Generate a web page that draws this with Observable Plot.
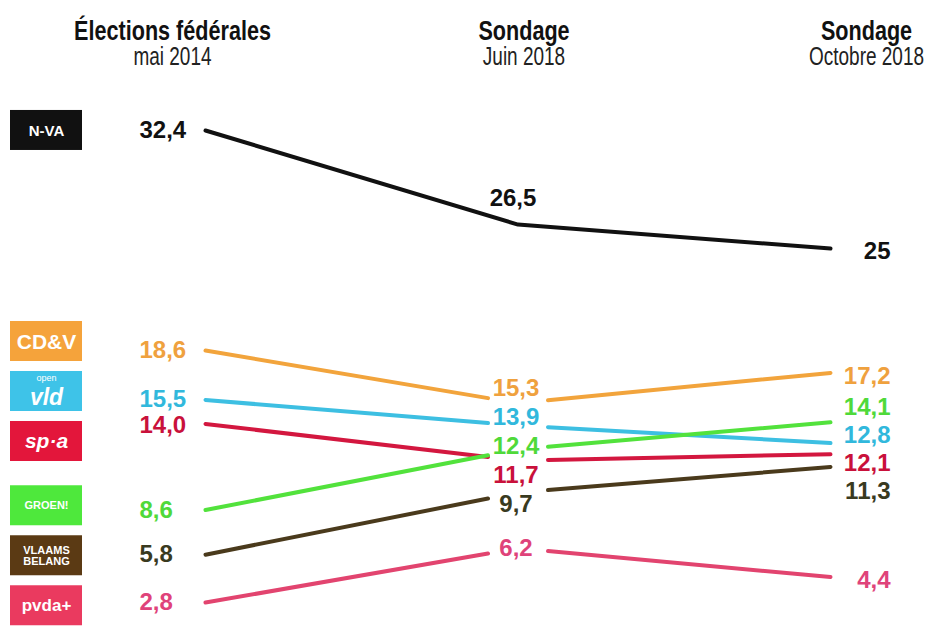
<!DOCTYPE html>
<html><head><meta charset="utf-8">
<script src="https://cdn.jsdelivr.net/npm/d3@7"></script>
<script src="https://cdn.jsdelivr.net/npm/@observablehq/plot@0.6"></script>
<style>
body{margin:0;background:#fff}
#chart svg{overflow:visible}
</style>
</head><body><div id="chart"></div>
<script>
// ---- data ----
const parties = ["N-VA", "CD&V", "Open VLD", "sp.a", "Groen", "Vlaams Belang", "PVDA"];
const logoText = ["N-VA", "CD&V", "vld", "sp·a", "GROEN!", "VLAAMS\nBELANG", "pvda+"];
const columnTitles = ["Élections fédérales", "Sondage", "Sondage"];
const columnDates = ["mai 2014", "Juin 2018", "Octobre 2018"];
const mai2014 = [32.4, 18.6, 15.5, 14.0, 8.6, 5.8, 2.8];
const juin2018 = [26.5, 15.3, 13.9, 11.7, 12.4, 9.7, 6.2];
const oct2018 = [25, 17.2, 12.8, 12.1, 14.1, 11.3, 4.4];
const mai2014Text = ["32,4", "18,6", "15,5", "14,0", "8,6", "5,8", "2,8"];
const juin2018Text = ["26,5", "15,3", "13,9", "11,7", "12,4", "9,7", "6,2"];
const oct2018Text = ["25", "17,2", "12,8", "12,1", "14,1", "11,3", "4,4"];

// ---- styles ----
const lineColors = ["#111111", "#f2a43c", "#3dbfe2", "#d3173f", "#52e23c", "#4a3a1c", "#e2446f"];
const labelColors = ["#111111", "#efa13e", "#31b8dc", "#c9113b", "#4fd93a", "#393a1f", "#df437a"];
const logoColors = ["#111111", "#f5a33b", "#3ec3e8", "#e3163b", "#4ee83c", "#5b3a14", "#ea3a5f"];
const logoFont = [15, 21, 23, 21, 11, 11, 17];

const W = 933, H = 627;
const xRange = [205, 830];
const yDomain = [0, 35], yRange = [646.7, 88.5];
const xs = Plot.scale({x: {domain: [0, 2], range: xRange}});
const ys = Plot.scale({y: {domain: yDomain, range: yRange}});
const yPx = v => ys.apply(v);
const pxPerCol = (xRange[1] - xRange[0]) / 2;

const cols = [mai2014, juin2018, oct2018];
const texts = [mai2014Text, juin2018Text, oct2018Text];

// dodge: spread overlapping labels (pixel space) around their mean
function dodge(px, gap) {
  const order = px.map((_, i) => i).sort((a, b) => px[a] - px[b]);
  let clusters = order.map(i => ({m: [i], c: px[i]}));
  let changed = true;
  while (changed) {
    changed = false;
    for (let k = 0; k < clusters.length - 1; k++) {
      const a = clusters[k], b = clusters[k + 1];
      const aBot = a.c + (a.m.length - 1) * gap / 2;
      const bTop = b.c - (b.m.length - 1) * gap / 2;
      if (bTop - aBot < gap) {
        const m = a.m.concat(b.m);
        clusters.splice(k, 2, {m, c: d3.mean(m, i => px[i])});
        changed = true;
        break;
      }
    }
  }
  const out = new Array(px.length);
  for (const cl of clusters) cl.m.forEach((i, k) => out[i] = cl.c + (k - (cl.m.length - 1) / 2) * gap);
  return out;
}

function labelRows(col, gap, skipFirst) {
  const idx = parties.map((_, i) => i).filter(i => !(skipFirst && i === 0));
  const px = idx.map(i => yPx(cols[col][i]));
  const d = dodge(px, gap);
  return idx.map((i, k) => ({col, y: ys.invert(d[k]), text: texts[col][i], color: labelColors[i]}));
}
const leftLabels = labelRows(0, 26, false);
const midLabels = labelRows(1, 29, true);
const rightLabels = labelRows(2, 28, false);
const nvaMid = [{col: 1, y: juin2018[0], text: juin2018Text[0], color: labelColors[0]}];

// lines: N-VA continuous, others broken around middle labels
const gapPx = 30, g = gapPx / pxPerCol;
const nvaLine = [0, 1, 2].map(c => ({party: parties[0], col: c, v: cols[c][0]}));
const segs = [];
parties.forEach((p, i) => {
  if (i === 0) return;
  const a = mai2014[i], b = juin2018[i], c = oct2018[i];
  segs.push({x1: 0, y1: a, x2: 1 - g, y2: a + (b - a) * (1 - g), color: lineColors[i]});
  segs.push({x1: 1 + g, y1: b + (c - b) * g, x2: 2, y2: c, color: lineColors[i]});
});

// logos aligned to dodged left positions
const logoPx = dodge(mai2014.map(yPx), 50);
const logos = parties.map((p, i) => ({
  party: p, text: logoText[i], color: logoColors[i], size: logoFont[i],
  x1: xs.invert(10), x2: xs.invert(82), xc: xs.invert(46),
  y1: ys.invert(logoPx[i] - 20), y2: ys.invert(logoPx[i] + 20), yc: ys.invert(logoPx[i])
}));
const italicLogos = new Set(["Open VLD", "sp.a"]);

const headerShift = [-33, 6, 36];
const font = "'Liberation Sans', Arial, sans-serif";

const chart = Plot.plot({
  width: W, height: H,
  marginTop: 0, marginBottom: 0, marginLeft: 0, marginRight: 0,
  x: {domain: [0, 2], range: xRange, axis: null},
  y: {domain: yDomain, range: yRange, axis: null},
  style: {fontFamily: font, background: "#fff", overflow: "visible"},
  marks: [
    // headers
    Plot.text(columnTitles, {x: (d, i) => i + headerShift[i] / pxPerCol, frameAnchor: "top", lineAnchor: "top", dy: 20,
      fontSize: 27, fontWeight: 700, fill: "#111", text: d => d}),
    Plot.text(columnDates, {x: (d, i) => i + headerShift[i] / pxPerCol, frameAnchor: "top", lineAnchor: "top", dy: 47,
      fontSize: 25, fontWeight: 400, fill: "#222", text: d => d}),
    // lines
    Plot.line(nvaLine, {x: "col", y: "v", stroke: lineColors[0], strokeWidth: 4, strokeLinecap: "round", strokeLinejoin: "round"}),
    Plot.link(segs, {x1: "x1", y1: "y1", x2: "x2", y2: "y2", stroke: "color", strokeWidth: 4, strokeLinecap: "round"}),
    // value labels
    Plot.text(leftLabels, {x: "col", y: "y", text: "text", fill: "color", textAnchor: "start", dx: -66, fontSize: 24, fontWeight: 700}),
    Plot.text(midLabels, {x: "col", y: "y", text: "text", fill: "color", textAnchor: "middle", dx: -2, fontSize: 24, fontWeight: 700}),
    Plot.text(nvaMid, {x: "col", y: "y", text: "text", fill: "color", textAnchor: "middle", dx: -5, dy: -26, fontSize: 24, fontWeight: 700}),
    Plot.text(rightLabels, {x: "col", y: "y", text: "text", fill: "color", textAnchor: "end", dx: 60, dy: 3, fontSize: 24, fontWeight: 700}),
    // logos
    Plot.rect(logos, {x1: "x1", x2: "x2", y1: "y1", y2: "y2", fill: "color"}),
    Plot.text(logos.filter(d => !italicLogos.has(d.party)), {x: "xc", y: "yc", text: "text", fill: "#fff",
      fontSize: "size", fontWeight: 900, lineHeight: 1.05}),
    Plot.text(logos.filter(d => d.party === "sp.a"), {x: "xc", y: "yc", text: "text", fill: "#fff",
      fontSize: "size", fontWeight: 900, fontStyle: "italic"}),
    Plot.text(logos.filter(d => d.party === "Open VLD"), {x: "xc", y: "yc", text: "text", fill: "#fff",
      fontSize: "size", fontWeight: 900, fontStyle: "italic", dy: 6}),
    Plot.text(logos.filter(d => d.party === "Open VLD"), {x: "xc", y: "yc", text: () => "open", fill: "#fff",
      fontSize: 9, dy: -13})
  ]
});
// condensed look for the column header texts
function condense(t, s) {
  const tr = t.getAttribute("transform");
  if (tr) { t.setAttribute("transform", tr + ` scale(${s},1)`); return; }
  const x = +(t.getAttribute("x") || 0), y = +(t.getAttribute("y") || 0);
  t.setAttribute("transform", `translate(${x},${y}) scale(${s},1) translate(${-x},${-y})`);
}
chart.querySelectorAll("text").forEach(t => {
  const s = t.textContent;
  if (columnTitles.includes(s)) condense(t, 0.8);
  else if (columnDates.includes(s)) condense(t, 0.76);
});
document.getElementById("chart").append(chart);
</script>
</body></html>
